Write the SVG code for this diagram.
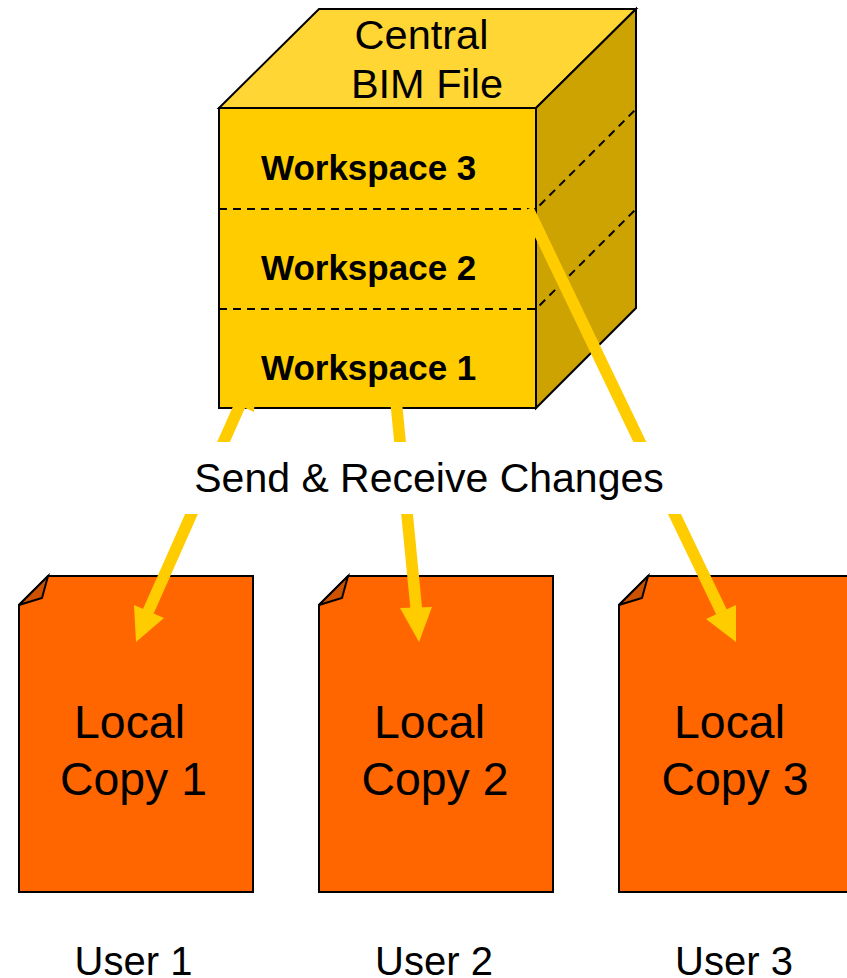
<svg xmlns="http://www.w3.org/2000/svg" width="847" height="978" viewBox="0 0 847 978">
<style>
.o{stroke:#000;stroke-width:2;stroke-linejoin:miter}
.d{fill:none;stroke:#000;stroke-width:2;stroke-dasharray:8 6}
.t{font-family:"Liberation Sans",Arial,sans-serif;fill:#000}
.c{font-size:41.5px}
.l{font-size:46.4px}
.w{font-size:35px;font-weight:bold}
.u{font-size:40px}
.s{font-size:41px}
.a{stroke:#fc0;stroke-width:11.7;fill:none}
.h{fill:#fc0}
.p{fill:#f60}
.f{fill:#cc5200}
</style>
<rect width="847" height="978" fill="#fff"/>
<g id="central-bim-file">
<path class="o" fill="#fc0" d="M219 108H536V408H219Z"/>
<path class="o" fill="#ffd633" d="M219 108L319 9H636L536 108Z"/>
<path class="o" fill="#cca300" d="M536 108L636 9V308L536 408Z"/>
<path class="d" d="M219 209H536L636 109M219 309H536L636 209"/>
<text class="t c" x="421.5" y="49" text-anchor="middle">Central</text>
<text class="t c" x="427" y="98" text-anchor="middle">BIM File</text>
<text class="t w" x="261" y="180">Workspace 3</text>
<text class="t w" x="261" y="280">Workspace 2</text>
<text class="t w" x="261" y="380">Workspace 1</text>
</g>
<g id="local-copy-1"><path class="o p" d="M48 576H253V892H19V605Z"/><path class="o f" d="M19 605L48 576L42 598Z"/><text class="t l" x="129.5" y="738" text-anchor="middle">Local</text><text class="t l" x="133.5" y="795" text-anchor="middle">Copy 1</text></g>
<g id="local-copy-2"><path class="o p" d="M348 576H553V892H319V605Z"/><path class="o f" d="M319 605L348 576L342 598Z"/><text class="t l" x="429.5" y="738" text-anchor="middle">Local</text><text class="t l" x="435" y="795" text-anchor="middle">Copy 2</text></g>
<g id="local-copy-3"><path class="o p" d="M648 576H853V892H619V605Z"/><path class="o f" d="M619 605L648 576L642 598Z"/><text class="t l" x="729.5" y="738" text-anchor="middle">Local</text><text class="t l" x="735" y="795" text-anchor="middle">Copy 3</text></g>
<g id="connectors">
<path class="a" d="M255.5 370L148 612M394 380L416.6 612M528 209L721.5 612"/>
<path class="h" d="M136 642L134 605L164 618Z"/>
<path class="h" d="M419 642L400 608L432 607Z"/>
<path class="h" d="M736 642L706 619L736 605Z"/>
<path class="h" d="M256 370L254 412L223 398Z"/>
</g>
<g id="label"><rect x="180" y="442" width="510" height="72" fill="#fff"/>
<text class="t s" x="429" y="492" text-anchor="middle">Send &amp; Receive Changes</text></g>
<g id="user-1"><text class="t u" x="133.5" y="975" text-anchor="middle">User 1</text></g>
<g id="user-2"><text class="t u" x="434" y="975" text-anchor="middle">User 2</text></g>
<g id="user-3"><text class="t u" x="734" y="975" text-anchor="middle">User 3</text></g>
</svg>
